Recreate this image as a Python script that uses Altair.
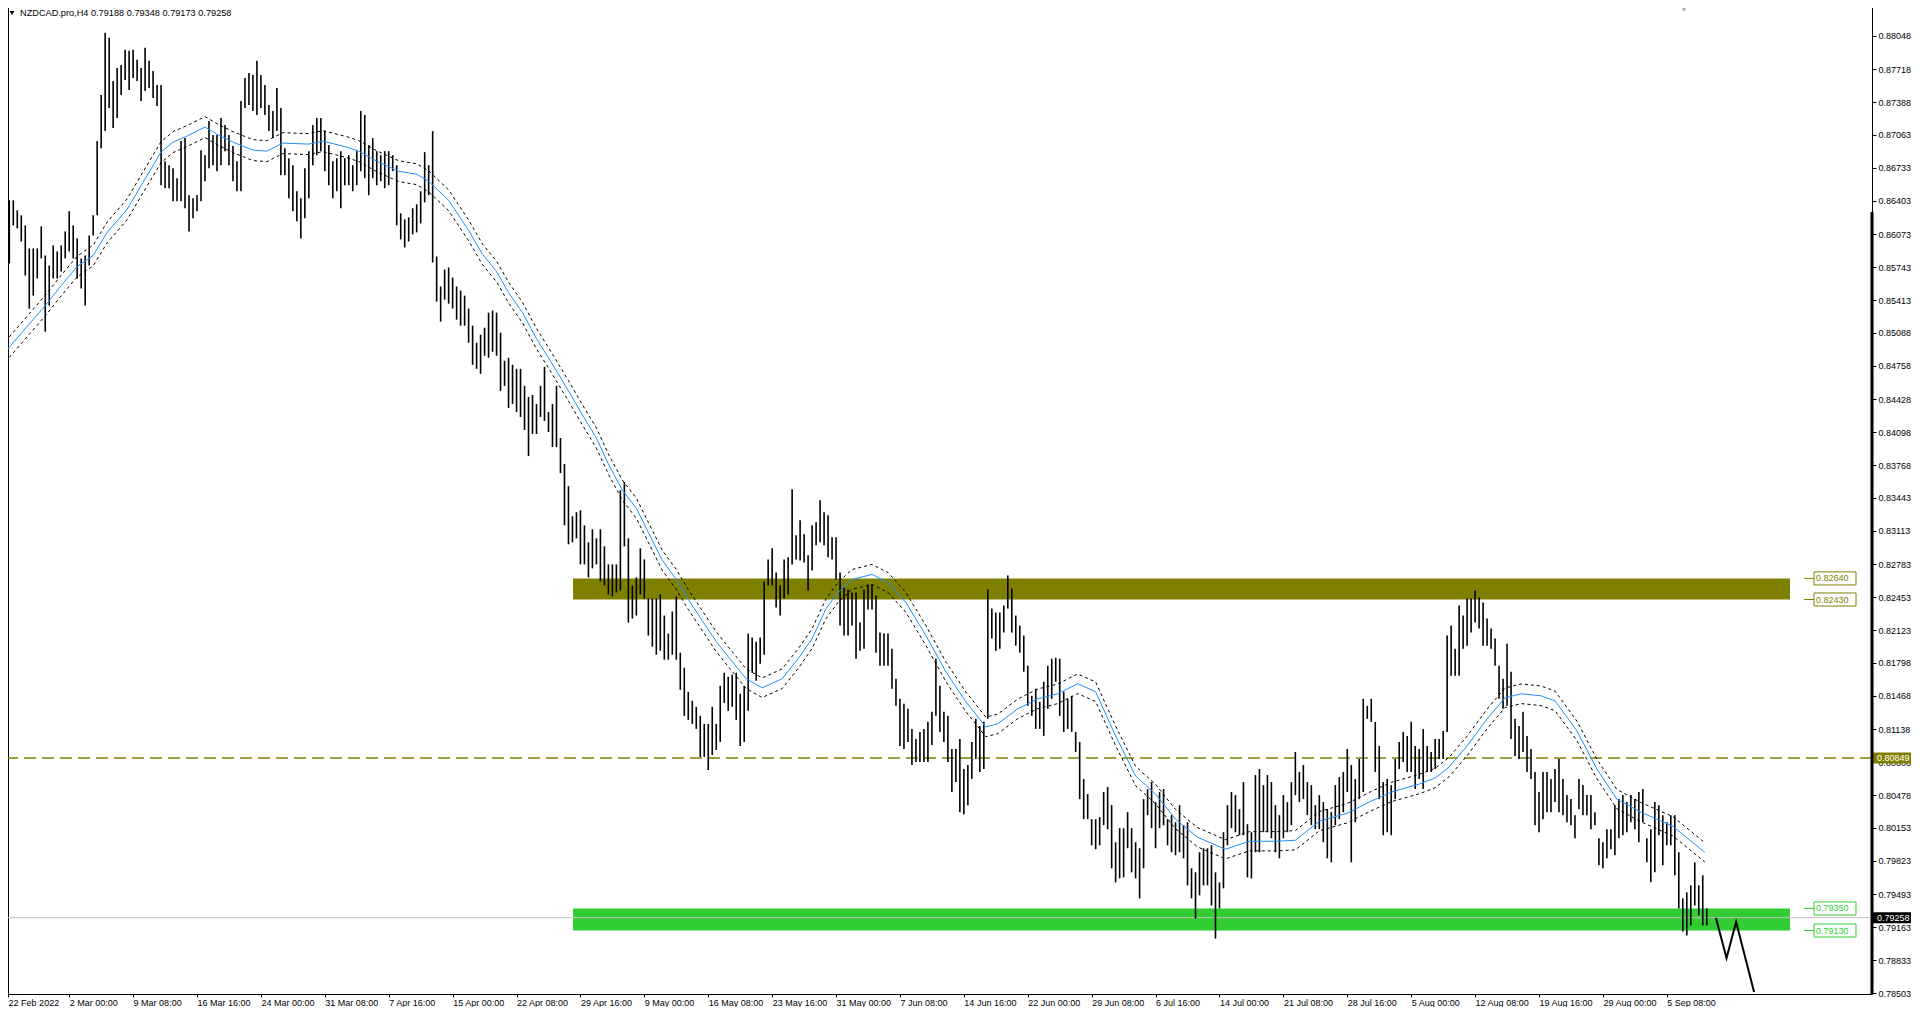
import json
import altair as alt
import pandas as pd

TITLE = "NZDCAD.pro,H4  0.79188 0.79348 0.79173 0.79258"
FONT = "Liberation Sans"

# ---- price bars (each drawn bar spans two H4 bars) ----
BAR_STEP = 2
highs = [
    0.8603, 0.8641, 0.8641, 0.8631, 0.8626, 0.8616, 0.8593, 0.8593, 0.8593, 0.8615,
    0.8586, 0.8576, 0.8596, 0.8590, 0.8596, 0.8610, 0.8630, 0.8616, 0.8603, 0.8583,
    0.8586, 0.8606, 0.8626, 0.8700, 0.8746, 0.8808, 0.8803, 0.8760, 0.8773, 0.8776,
    0.8791, 0.8790, 0.8791, 0.8781, 0.8773, 0.8793, 0.8780, 0.8770, 0.8756, 0.8756,
    0.8680, 0.8676, 0.8673, 0.8663, 0.8700, 0.8703, 0.8646, 0.8643, 0.8646, 0.8691,
    0.8686, 0.8720, 0.8706, 0.8706, 0.8723, 0.8716, 0.8706, 0.8695, 0.8680, 0.8740,
    0.8763, 0.8768, 0.8766, 0.8780, 0.8766, 0.8756, 0.8736, 0.8730, 0.8753, 0.8733,
    0.8693, 0.8683, 0.8676, 0.8650, 0.8643, 0.8673, 0.8690, 0.8716, 0.8723, 0.8723,
    0.8710, 0.8696, 0.8680, 0.8683, 0.8690, 0.8683, 0.8686, 0.8676, 0.8690, 0.8730,
    0.8726, 0.8696, 0.8703, 0.8690, 0.8686, 0.8690, 0.8690, 0.8686, 0.8676,
    0.8628, 0.8622, 0.8624, 0.8633, 0.8637, 0.8650, 0.8689, 0.8676, 0.8710, 0.8585,
    0.8555, 0.8572, 0.8574, 0.8564, 0.8555, 0.8551, 0.8546, 0.8533, 0.8516, 0.8499,
    0.8507, 0.8514, 0.8529, 0.8531, 0.8529, 0.8509, 0.8481, 0.8484, 0.8477, 0.8473,
    0.8473, 0.8456, 0.8445, 0.8447, 0.8438, 0.8456, 0.8475, 0.8430, 0.8438, 0.8456,
    0.8404, 0.8378, 0.8356, 0.8326, 0.8330, 0.8332, 0.8317, 0.8300, 0.8313, 0.8304,
    0.8313, 0.8296, 0.8278, 0.8278, 0.8278, 0.8352, 0.8360, 0.8304, 0.8257, 0.8265,
    0.8294, 0.8283, 0.8244, 0.8244, 0.8244, 0.8248, 0.8227, 0.8209, 0.8231, 0.8246,
    0.8190, 0.8175, 0.8151, 0.8142, 0.8136, 0.8127, 0.8119, 0.8119, 0.8136, 0.8119,
    0.8157, 0.8170, 0.8166, 0.8168, 0.8170, 0.8149, 0.8157, 0.8209, 0.8205, 0.8201,
    0.8205, 0.8261, 0.8283, 0.8294, 0.8270, 0.8257, 0.8283, 0.8285,
    0.8353, 0.8307, 0.8322, 0.8308, 0.8287, 0.8317, 0.8320, 0.8342, 0.8330, 0.8327,
    0.8305, 0.8305, 0.8270, 0.8255, 0.8253, 0.8250, 0.8250, 0.8220, 0.8253, 0.8258,
    0.8258, 0.8247, 0.8210, 0.8209, 0.8209, 0.8194, 0.8164, 0.8144, 0.8139, 0.8134,
    0.8114, 0.8104, 0.8111, 0.8114, 0.8121, 0.8131, 0.8184, 0.8157, 0.8131, 0.8127,
    0.8094, 0.8094, 0.8104, 0.8074, 0.8078, 0.8101, 0.8124, 0.8117, 0.8121, 0.8253,
    0.8234, 0.8230, 0.8230, 0.8237, 0.8267, 0.8254, 0.8227, 0.8217, 0.8207, 0.8177,
    0.8147, 0.8154, 0.8141, 0.8161, 0.8177, 0.8184, 0.8185, 0.8184, 0.8151, 0.8144,
    0.8147, 0.8111, 0.8101, 0.8064, 0.8049, 0.8024, 0.8024, 0.8026, 0.8051, 0.8056,
    0.8038, 0.8001, 0.8015, 0.8015, 0.8031, 0.8015, 0.8001, 0.7995, 0.8044, 0.8054,
    0.8061, 0.8041, 0.8051, 0.8054, 0.8024, 0.8028, 0.8021, 0.8038, 0.8018, 0.8021,
    0.7975, 0.7971, 0.7991, 0.7995, 0.7995, 0.7998, 0.7971, 0.7961, 0.8011, 0.8038,
    0.8051, 0.8048, 0.8034, 0.8061,
    0.8019, 0.8011, 0.8068, 0.8074, 0.8058, 0.8068, 0.8061, 0.8038, 0.8028, 0.8048,
    0.8041, 0.8061, 0.8091, 0.8071, 0.8078, 0.8061, 0.8058, 0.8038, 0.8048, 0.8041,
    0.8034, 0.8031, 0.8058, 0.8066, 0.8071, 0.8094, 0.8078, 0.8064, 0.8084, 0.8144,
    0.8137, 0.8144,
    0.8121, 0.8097, 0.8061, 0.8064, 0.8058, 0.8084, 0.8101, 0.8111, 0.8107,
    0.8121, 0.8097, 0.8094, 0.8114, 0.8097, 0.8091, 0.8104, 0.8104, 0.8112, 0.8207,
    0.8217, 0.8194, 0.8237, 0.8227, 0.8244, 0.8244, 0.8252, 0.8245, 0.8240, 0.8224,
    0.8214, 0.8204,
    0.8177, 0.8164, 0.8199, 0.8171, 0.8124, 0.8117, 0.8131, 0.8107, 0.8094,
    0.8071, 0.8051, 0.8071, 0.8071, 0.8064, 0.8074, 0.8084, 0.8064, 0.8048, 0.8044,
    0.8028, 0.8064, 0.8058, 0.8048, 0.8048, 0.8031, 0.8005, 0.8001, 0.8014, 0.8014,
    0.8038, 0.8044, 0.8048, 0.8041, 0.8048, 0.8044, 0.8051, 0.8054, 0.8005, 0.8014,
    0.8041, 0.8038, 0.8028, 0.8021, 0.8028, 0.8028, 0.7991, 0.7945, 0.7951, 0.7958,
    0.7981, 0.7958, 0.7968, 0.7935,
]
lows = [
    0.8570, 0.8578, 0.8616, 0.8613, 0.8600, 0.8566, 0.8533, 0.8546, 0.8563, 0.8583,
    0.8510, 0.8536, 0.8563, 0.8563, 0.8570, 0.8583, 0.8590, 0.8583, 0.8563, 0.8553,
    0.8536, 0.8576, 0.8606, 0.8626, 0.8693, 0.8710, 0.8733, 0.8713, 0.8723, 0.8746,
    0.8761, 0.8751, 0.8763, 0.8760, 0.8740, 0.8750, 0.8753, 0.8743, 0.8735, 0.8656,
    0.8653, 0.8653, 0.8640, 0.8640, 0.8640, 0.8633, 0.8610, 0.8623, 0.8630, 0.8640,
    0.8660, 0.8673, 0.8676, 0.8670, 0.8676, 0.8690, 0.8676, 0.8660, 0.8650, 0.8650,
    0.8733, 0.8736, 0.8730, 0.8726, 0.8733, 0.8726, 0.8710, 0.8703, 0.8710, 0.8666,
    0.8666, 0.8643, 0.8630, 0.8620, 0.8603, 0.8623, 0.8643, 0.8676, 0.8686, 0.8690,
    0.8670, 0.8656, 0.8643, 0.8650, 0.8633, 0.8656, 0.8656, 0.8650, 0.8656, 0.8670,
    0.8663, 0.8646, 0.8663, 0.8656, 0.8660, 0.8653, 0.8656, 0.8670, 0.8616,
    0.8602, 0.8594, 0.8600, 0.8607, 0.8609, 0.8618, 0.8639, 0.8646, 0.8579, 0.8540,
    0.8520, 0.8542, 0.8538, 0.8533, 0.8522, 0.8516, 0.8516, 0.8499, 0.8477, 0.8473,
    0.8468, 0.8486, 0.8484, 0.8490, 0.8486, 0.8451, 0.8456, 0.8434, 0.8438, 0.8430,
    0.8425, 0.8412, 0.8386, 0.8408, 0.8408, 0.8425, 0.8421, 0.8410, 0.8395, 0.8395,
    0.8369, 0.8317, 0.8298, 0.8300, 0.8304, 0.8278, 0.8278, 0.8265, 0.8274, 0.8278,
    0.8261, 0.8257, 0.8248, 0.8246, 0.8250, 0.8252, 0.8296, 0.8220, 0.8224, 0.8227,
    0.8248, 0.8244, 0.8207, 0.8196, 0.8188, 0.8192, 0.8183, 0.8183, 0.8188, 0.8183,
    0.8153, 0.8127, 0.8123, 0.8119, 0.8114, 0.8086, 0.8086, 0.8073, 0.8088, 0.8093,
    0.8101, 0.8140, 0.8132, 0.8136, 0.8123, 0.8097, 0.8101, 0.8132, 0.8170, 0.8162,
    0.8179, 0.8188, 0.8257, 0.8257, 0.8235, 0.8227, 0.8244, 0.8248,
    0.8278, 0.8283, 0.8282, 0.8280, 0.8252, 0.8272, 0.8297, 0.8300, 0.8297, 0.8285,
    0.8283, 0.8263, 0.8217, 0.8207, 0.8207, 0.8217, 0.8184, 0.8192, 0.8194, 0.8233,
    0.8233, 0.8190, 0.8177, 0.8177, 0.8177, 0.8154, 0.8137, 0.8097, 0.8094, 0.8101,
    0.8078, 0.8081, 0.8081, 0.8081, 0.8081, 0.8098, 0.8127, 0.8111, 0.8101, 0.8081,
    0.8051, 0.8061, 0.8031, 0.8029, 0.8038, 0.8064, 0.8084, 0.8071, 0.8074, 0.8124,
    0.8204, 0.8192, 0.8194, 0.8210, 0.8234, 0.8210, 0.8197, 0.8190, 0.8171, 0.8137,
    0.8127, 0.8114, 0.8114, 0.8107, 0.8134, 0.8144, 0.8161, 0.8127, 0.8111, 0.8114,
    0.8111, 0.8091, 0.8044, 0.8024, 0.8024, 0.7998, 0.7994, 0.7998, 0.8018, 0.8014,
    0.7975, 0.7961, 0.7965, 0.7966, 0.7995, 0.7971, 0.7965, 0.7945, 0.7975, 0.8028,
    0.8015, 0.7995, 0.8015, 0.8018, 0.7998, 0.7991, 0.7988, 0.7991, 0.7985, 0.7958,
    0.7945, 0.7925, 0.7948, 0.7958, 0.7958, 0.7938, 0.7905, 0.7935, 0.7955, 0.7998,
    0.8015, 0.8011, 0.8008, 0.8008,
    0.7966, 0.7965, 0.7991, 0.7991, 0.8011, 0.8011, 0.8005, 0.7991, 0.7985, 0.8005,
    0.8011, 0.8018, 0.8048, 0.8041, 0.8044, 0.8028, 0.8018, 0.8014, 0.8014, 0.8001,
    0.7985, 0.7981, 0.8018, 0.8024, 0.8031, 0.8051, 0.7981, 0.8021, 0.8044, 0.8051,
    0.8124, 0.8121,
    0.8071, 0.8044, 0.8008, 0.8011, 0.8008, 0.8044, 0.8074, 0.8081, 0.8071,
    0.8071, 0.8054, 0.8064, 0.8054, 0.8071, 0.8071, 0.8074, 0.8084, 0.8084, 0.8111,
    0.8167, 0.8167, 0.8167, 0.8194, 0.8197, 0.8210, 0.8220, 0.8214, 0.8197, 0.8197,
    0.8194, 0.8177,
    0.8144, 0.8134, 0.8137, 0.8104, 0.8087, 0.8084, 0.8091, 0.8071, 0.8064,
    0.8018, 0.8011, 0.8024, 0.8031, 0.8031, 0.8041, 0.8031, 0.8028, 0.8021, 0.8018,
    0.8005, 0.8034, 0.8028, 0.8028, 0.8014, 0.8018, 0.7978, 0.7975, 0.7985, 0.7994,
    0.7988, 0.8005, 0.8008, 0.8011, 0.8021, 0.8014, 0.8001, 0.8021, 0.7981, 0.7961,
    0.7971, 0.8008, 0.7978, 0.7998, 0.7998, 0.7968, 0.7935, 0.7912, 0.7908, 0.7918,
    0.7938, 0.7928, 0.7918, 0.7918,
]

# ---- moving average ----
ma_index = [0, 20, 28, 36, 44, 51, 61, 69, 78, 84, 91, 100, 106, 114, 124, 131, 139, 152, 159, 171,
            177, 186, 197, 206, 212, 222, 232, 239, 246, 252, 259, 266, 272, 282, 289, 296, 302, 309, 316, 322,
            329, 336, 342, 349, 356, 362, 371, 379, 389, 397, 404, 411, 417, 424, 434, 442, 451, 461, 471, 481,
            491, 497, 507, 517, 527, 537, 546, 556, 566, 576, 586, 597, 611, 623, 637, 646, 658, 672, 684, 694,
            708, 716, 723, 732, 742, 751, 759, 769, 776, 787, 797, 807, 819, 835, 851]
ma_values = [0.8490, 0.8536, 0.8556, 0.8575, 0.8586, 0.8609, 0.8632, 0.8659, 0.8689, 0.8699,
             0.8705, 0.8714, 0.8707, 0.8699, 0.8691, 0.8690, 0.8698, 0.8697, 0.8700, 0.8694,
             0.8690, 0.8680, 0.8670, 0.8667, 0.8660, 0.8641, 0.8611, 0.8587, 0.8570, 0.8549,
             0.8529, 0.8503, 0.8484, 0.8451, 0.8427, 0.8404, 0.8378, 0.8352, 0.8334, 0.8310,
             0.8282, 0.8263, 0.8243, 0.8222, 0.8201, 0.8186, 0.8164, 0.8155, 0.8164, 0.8184,
             0.8204, 0.8234, 0.8250, 0.8263, 0.8268, 0.8260, 0.8240, 0.8207, 0.8171, 0.8141,
             0.8116, 0.8119, 0.8134, 0.8144, 0.8149, 0.8159, 0.8151, 0.8107, 0.8067, 0.8049,
             0.8024, 0.8006, 0.7994, 0.8002, 0.8002, 0.8003, 0.8022, 0.8030, 0.8042, 0.8051,
             0.8059, 0.8065, 0.8076, 0.8097, 0.8124, 0.8145, 0.8149, 0.8147, 0.8142, 0.8112,
             0.8074, 0.8044, 0.8031, 0.8017, 0.7991]
ENVELOPE_DEV = 0.0012  # envelope bands: +/- 0.12 %

# ---- axes ----
x_labels = ["22 Feb 2022", "2 Mar 00:00", "9 Mar 08:00", "16 Mar 16:00", "24 Mar 00:00",
            "31 Mar 08:00", "7 Apr 16:00", "15 Apr 00:00", "22 Apr 08:00", "29 Apr 16:00",
            "9 May 00:00", "16 May 08:00", "23 May 16:00", "31 May 00:00", "7 Jun 08:00",
            "14 Jun 16:00", "22 Jun 00:00", "29 Jun 08:00", "6 Jul 16:00", "14 Jul 00:00",
            "21 Jul 08:00", "28 Jul 16:00", "5 Aug 00:00", "12 Aug 08:00", "19 Aug 16:00",
            "29 Aug 00:00", "5 Sep 08:00"]
X_LABEL_EVERY = 32
y_ticks = [0.88048, 0.87718, 0.87388, 0.87063, 0.86733, 0.86403, 0.86073, 0.85743, 0.85413,
           0.85088, 0.84758, 0.84428, 0.84098, 0.83768, 0.83443, 0.83113, 0.82783, 0.82453,
           0.82123, 0.81798, 0.81468, 0.81138, 0.80808, 0.80478, 0.80153, 0.79823, 0.79493,
           0.79163, 0.78833, 0.78503]

# ---- annotations ----
zone_prices = [(0.8243, 0.8264, "#808000"), (0.7913, 0.7935, "#32CD32")]
zone_start, zone_end = 284.3, 893.7
level_price = 0.80849
bid_price = 0.79258
arrow_index = [856.6, 861.9, 866.7, 875.7]
arrow_values = [0.79254, 0.78856, 0.79215, 0.78517]

X_DOMAIN = [1.35, 934.75]
Y_DOMAIN = [0.78497, 0.88337]
W, H = 1864, 987

# ---------------------------------------------------------------
df_bars = pd.DataFrame({"i": [k * BAR_STEP for k in range(len(highs))], "high": highs, "low": lows})
df_ma = pd.DataFrame({"i": ma_index, "ma": ma_values})
df_ma["up"] = df_ma["ma"] * (1 + ENVELOPE_DEV)
df_ma["dn"] = df_ma["ma"] * (1 - ENVELOPE_DEV)
df_zones = pd.DataFrame([{"x0": zone_start, "x1": zone_end, "lo": lo, "hi": hi, "color": c}
                         for lo, hi, c in zone_prices])
zl = []
for lo, hi, c in zone_prices:
    for p in (hi, lo):
        zl.append({"p": p, "text": f"{p:.5f}", "color": c})
df_zlabels = pd.DataFrame(zl)
df_zlabels["lo"] = df_zlabels["p"] - 0.00065
df_zlabels["hi"] = df_zlabels["p"] + 0.00065
df_tags = pd.DataFrame([{"p": bid_price, "text": f"{bid_price:.5f}", "bg": "black"},
                        {"p": level_price, "text": f"{level_price:.5f}", "bg": "#808000"}])
df_tags["lo"] = df_tags["p"] - 0.00055
df_tags["hi"] = df_tags["p"] + 0.00055
df_arrow = pd.DataFrame({"i": arrow_index, "p": arrow_values})
one = pd.DataFrame({"t": [TITLE]})

xs = alt.Scale(domain=X_DOMAIN, nice=False, zero=False)
ys = alt.Scale(domain=Y_DOMAIN, nice=False, zero=False)
label_expr = json.dumps(x_labels) + "[round(datum.value / %d)]" % X_LABEL_EVERY
x_axis = alt.Axis(values=[k * X_LABEL_EVERY for k in range(1, len(x_labels))] + [1.4],
                  labelExpr=label_expr,
                  orient="bottom", domain=False, grid=False, ticks=True, tickSize=3, tickColor="black",
                  labelAlign="left", labelBaseline="top", labelPadding=1, labelFont=FONT,
                  labelFontSize=9, labelColor="black", labelOverlap=False, labelFlush=False,
                  labelBound=False, title=None)
y_axis = alt.Axis(values=y_ticks, format=".5f", orient="right", domain=False, grid=False,
                  tickSize=4, tickColor="black", labelPadding=2, labelFont=FONT, labelFontSize=9,
                  labelColor="black", labelOverlap=False, labelFlush=False, labelBound=False, title=None)


def X(f):
    return alt.X(f, type="quantitative", scale=xs, axis=x_axis)


def Y(f):
    return alt.Y(f, type="quantitative", scale=ys, axis=y_axis)


zones = alt.Chart(df_zones).mark_rect().encode(
    x=X("x0"), x2="x1", y=Y("lo"), y2="hi", color=alt.Color("color:N", scale=None))
bid = alt.Chart(pd.DataFrame({"p": [bid_price]})).mark_rule(color="#C0C0C0", strokeWidth=1).encode(y=Y("p"))
level = alt.Chart(pd.DataFrame({"p": [level_price]})).mark_rule(
    color="#808000", strokeWidth=1.5, strokeDash=[12, 6]).encode(y=Y("p"))
bars = alt.Chart(df_bars).mark_rule(color="black", strokeWidth=1.6, clip=True).encode(
    x=X("i"), y=Y("low"), y2="high")
env_up = alt.Chart(df_ma).mark_line(color="black", strokeWidth=1, strokeDash=[3, 3], clip=True).encode(
    x=X("i"), y=Y("up"))
env_dn = alt.Chart(df_ma).mark_line(color="black", strokeWidth=1, strokeDash=[3, 3], clip=True).encode(
    x=X("i"), y=Y("dn"))
ma = alt.Chart(df_ma).mark_line(color="#1E90FF", strokeWidth=1, clip=True).encode(x=X("i"), y=Y("ma"))
arrow = alt.Chart(df_arrow).mark_line(color="black", strokeWidth=2, clip=True).encode(x=X("i"), y=Y("p"))

leaders = alt.Chart(df_zlabels).mark_rule(strokeWidth=1).encode(
    x=alt.value(1796), x2=alt.value(1806), y=Y("p"), color=alt.Color("color:N", scale=None))
zboxes = alt.Chart(df_zlabels).mark_rect(fill="white", strokeWidth=1).encode(
    x=alt.value(1806), x2=alt.value(1848), y=Y("lo"), y2="hi", stroke=alt.Stroke("color:N", scale=None))
ztext = alt.Chart(df_zlabels).mark_text(align="left", baseline="middle", font=FONT, fontSize=9).encode(
    x=alt.value(1808), y=Y("p"), text="text:N", color=alt.Color("color:N", scale=None))

tag_boxes = alt.Chart(df_tags).mark_rect().encode(
    x=alt.value(1865), x2=alt.value(1903), y=Y("lo"), y2="hi", color=alt.Color("bg:N", scale=None))
tag_text = alt.Chart(df_tags).mark_text(align="left", baseline="middle", font=FONT, fontSize=9,
                                        color="white").encode(x=alt.value(1869), y=Y("p"), text="text:N")

thick = alt.Chart(one).mark_rule(color="black", strokeWidth=3).encode(
    x=alt.value(1864), y=alt.value(205), y2=alt.value(987))
title = alt.Chart(one).mark_text(align="left", baseline="middle", font=FONT, fontSize=9.2,
                                 color="black").encode(x=alt.value(12), y=alt.value(6), text="t:N")
tri = alt.Chart(one).mark_point(shape="triangle-down", filled=True, size=24, color="black",
                                opacity=1).encode(x=alt.value(4), y=alt.value(6))
shift_tri = alt.Chart(one).mark_point(shape="triangle-down", filled=True, size=16, color="#A0A0A0",
                                      opacity=1).encode(x=alt.value(1676), y=alt.value(3))

chart = alt.layer(
    zones, bid, level, bars, env_up, env_dn, ma, arrow,
    leaders, zboxes, ztext, tag_boxes, tag_text, thick, title, tri, shift_tri
).properties(
    width=W, height=H,
    padding={"left": -1, "top": -1, "right": 0, "bottom": 0},
    background="white",
).configure_view(stroke="black", strokeWidth=1)

chart.save("out.html", embed_options={"renderer": "svg", "actions": False})
